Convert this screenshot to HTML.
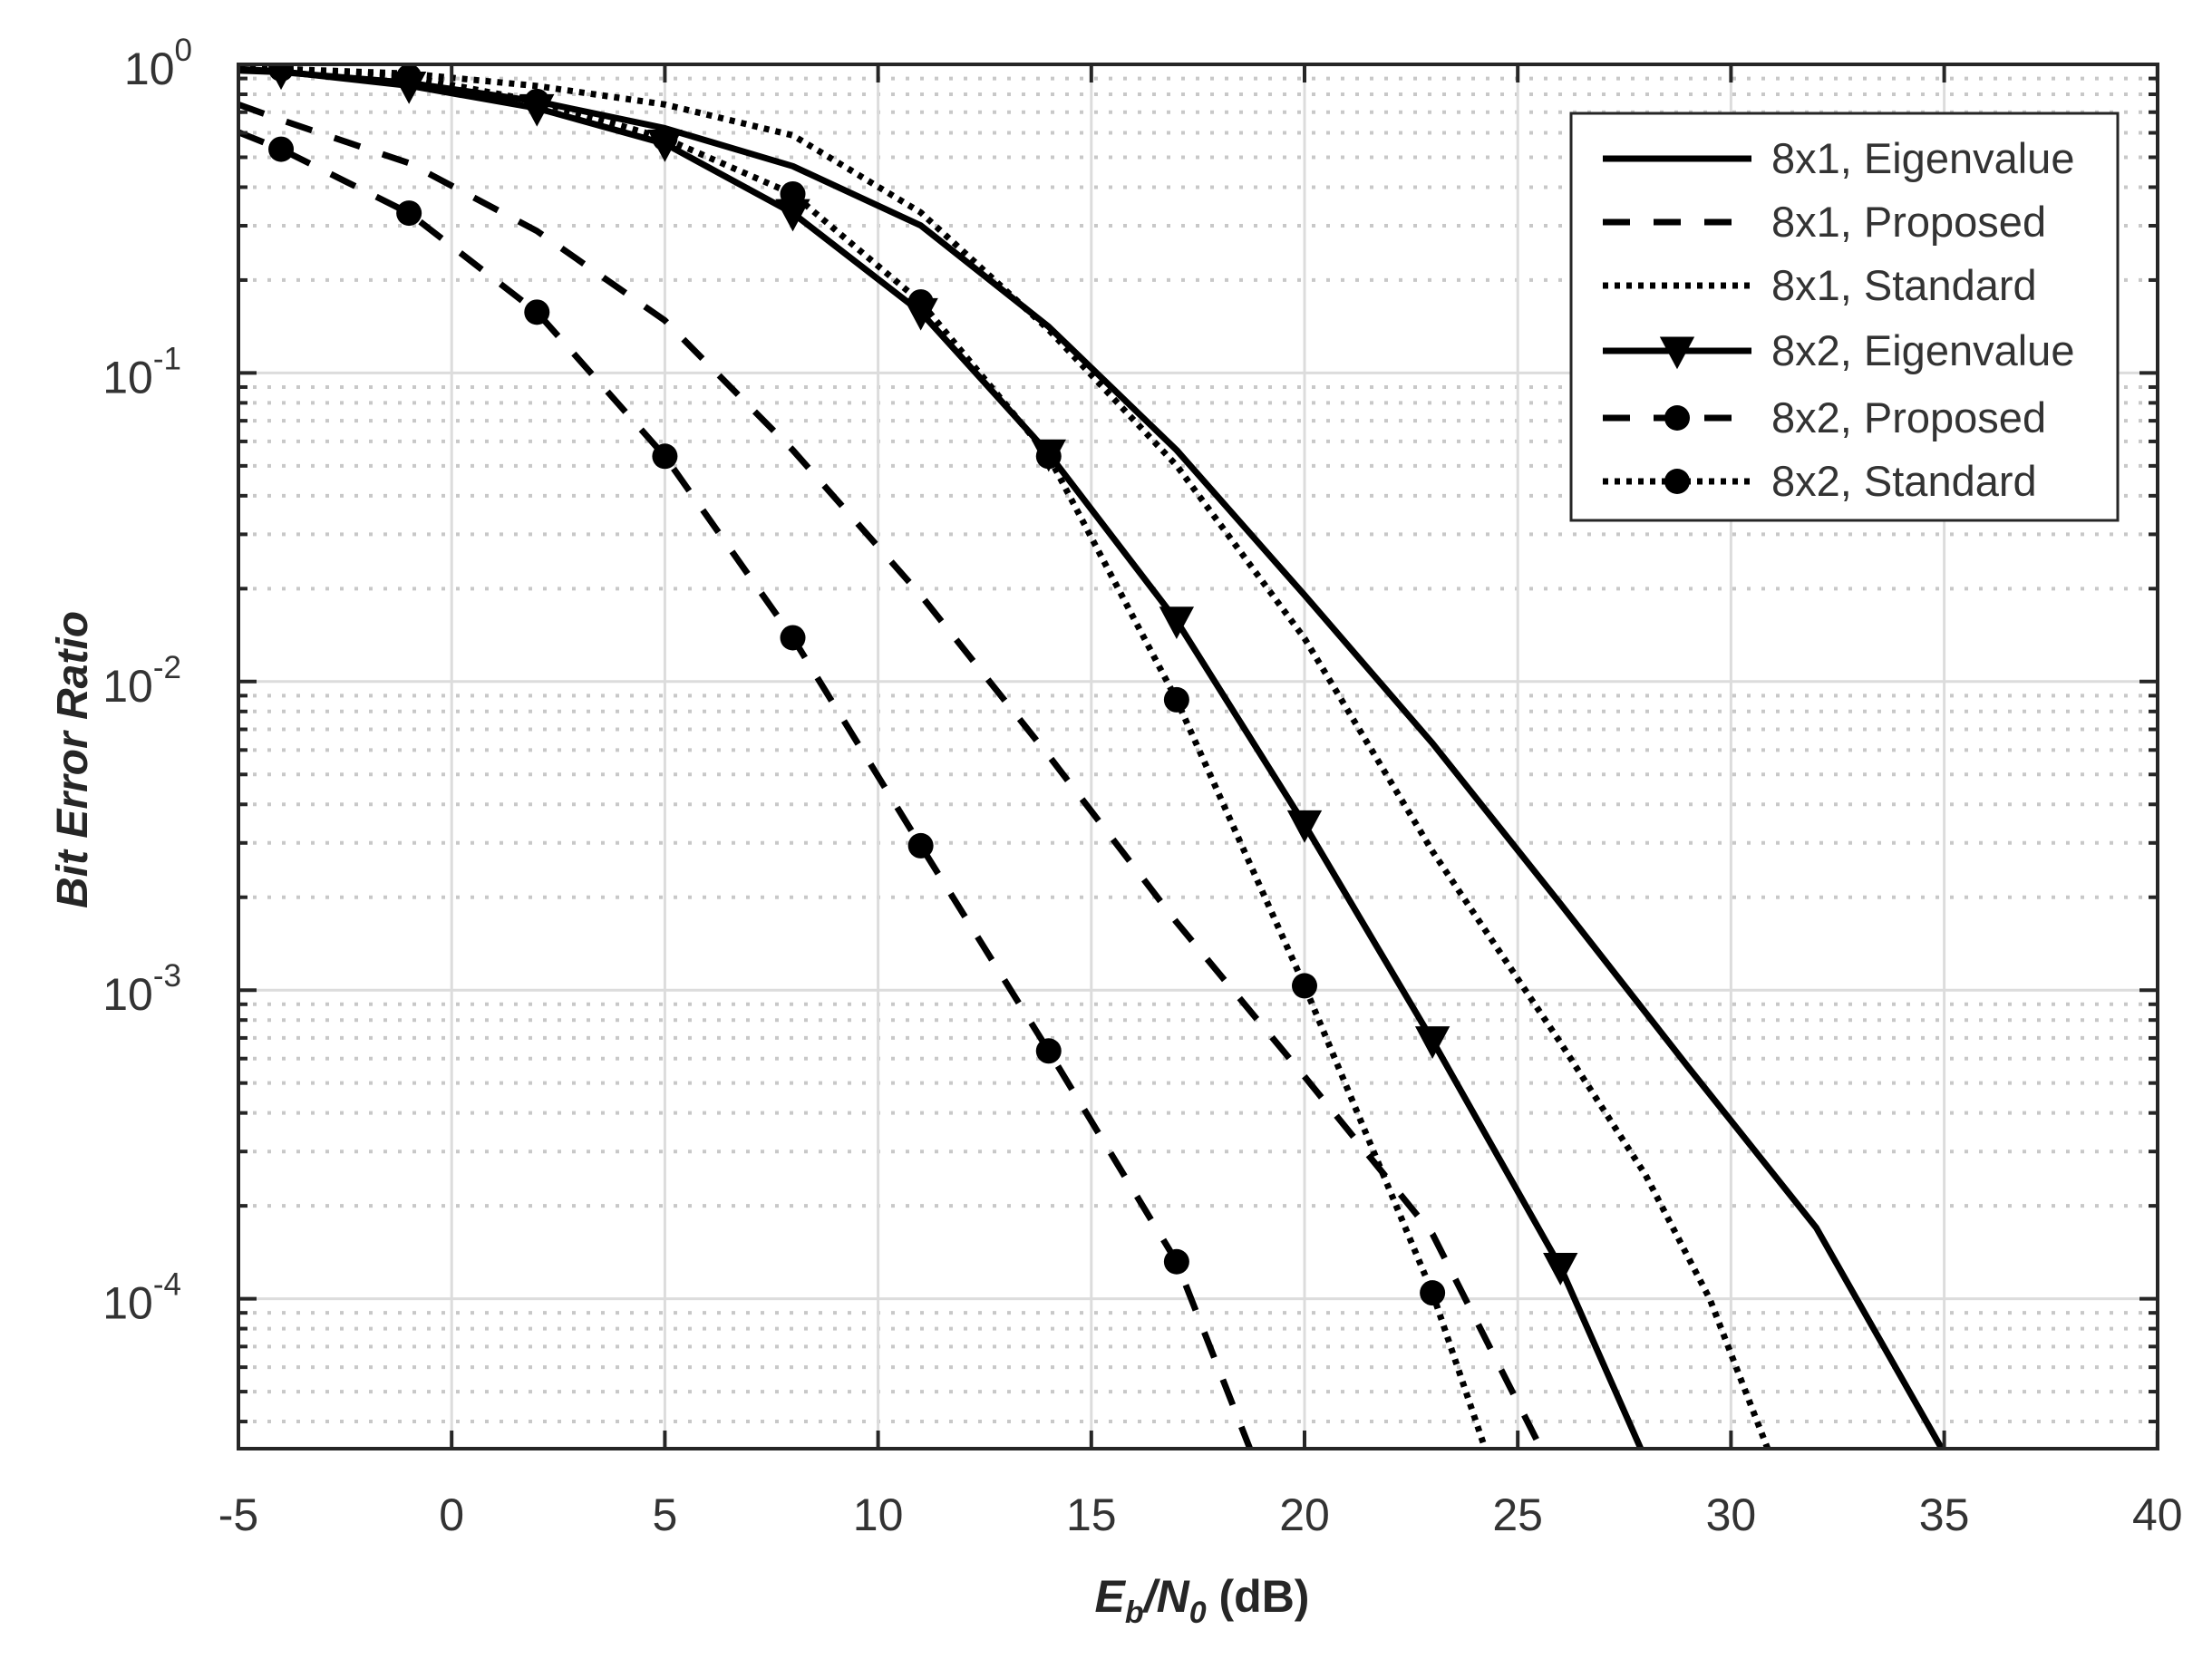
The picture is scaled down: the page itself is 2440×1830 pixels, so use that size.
<!DOCTYPE html>
<html><head><meta charset="utf-8"><style>
html,body{margin:0;padding:0;background:#fff;}
svg{display:block;}
text{font-family:"Liberation Sans",Arial,sans-serif;}
</style></head><body>
<svg id="s" width="2440" height="1830" viewBox="0 0 2440 1830" xmlns="http://www.w3.org/2000/svg">
<defs><clipPath id="c"><rect x="263" y="71" width="2117" height="1527"/></clipPath></defs>
<g id="grid"></g>
<g id="series" clip-path="url(#c)"></g>
<rect x="263" y="71" width="2117" height="1527" fill="none" stroke="#262626" stroke-width="4"/>
<g id="ticks"></g>
<g id="legend"></g>
<text x="1326" y="1778" font-size="50" font-weight="bold" font-style="italic" text-anchor="middle" fill="#262626">E<tspan font-size="34" dy="12">b</tspan><tspan dy="-12">/N</tspan><tspan font-size="34" dy="12">0</tspan><tspan dy="-12" font-style="normal"> (dB)</tspan></text>
<text transform="translate(96,838) rotate(-90)" font-size="48" font-weight="bold" font-style="italic" text-anchor="middle" fill="#262626">Bit Error Ratio</text>
</svg>
<script>
const NS="http://www.w3.org/2000/svg";
const X=x=>263+(x+5)*47.04, Y=d=>71+d*340.4;
function el(p,t,a,txt){const e=document.createElementNS(NS,t);for(const k in a)e.setAttribute(k,a[k]);if(txt!==undefined)e.textContent=txt;p.appendChild(e);return e;}
const G=document.getElementById('grid'),T=document.getElementById('ticks'),S=document.getElementById('series'),L=document.getElementById('legend');
for(let k=-5;k<=0;k++)for(let m=2;m<=9;m++){const lv=k+Math.log10(m);const d=-lv;if(d<0||d>4.486)continue;const y=Y(d);
 el(G,'line',{x1:263,x2:2380,y1:y,y2:y,stroke:'#c8c8c8','stroke-width':4,'stroke-dasharray':'4 12'});
 el(T,'line',{x1:263,x2:273,y1:y,y2:y,stroke:'#262626','stroke-width':4});
 el(T,'line',{x1:2370,x2:2380,y1:y,y2:y,stroke:'#262626','stroke-width':4});}
for(let d=0;d<=4;d++){const y=Y(d);el(G,'line',{x1:263,x2:2380,y1:y,y2:y,stroke:'#dcdcdc','stroke-width':3});
 el(T,'line',{x1:263,x2:283,y1:y,y2:y,stroke:'#262626','stroke-width':4});
 el(T,'line',{x1:2360,x2:2380,y1:y,y2:y,stroke:'#262626','stroke-width':4});
 const t=el(T,'text',{x:d==0?'212':'200',y:y+22,'font-size':50,'text-anchor':'end',fill:'#333'},'10');
 el(t,'tspan',{dy:-26,'font-size':35},d==0?'0':'-'+d);}
for(let x=-5;x<=40;x+=5){const px=X(x);el(G,'line',{x1:px,x2:px,y1:71,y2:1598,stroke:'#dcdcdc','stroke-width':3});
 el(T,'line',{x1:px,x2:px,y1:1598,y2:1578,stroke:'#262626','stroke-width':4});
 el(T,'line',{x1:px,x2:px,y1:71,y2:91,stroke:'#262626','stroke-width':4});
 el(T,'text',{x:px,y:1688,'font-size':50,'text-anchor':'middle',fill:'#333'},String(x));}
const data={
E1:[[-5,0.02],[-4,0.025],[-1,0.06],[2,0.12],[5,0.207],[8,0.33],[11,0.522],[14,0.85],[17,1.25],[20,1.72],[23,2.2],[26,2.72],[29,3.25],[32,3.77],[35,4.5]],
P1:[[-5,0.13],[-4,0.18],[-1,0.32],[2,0.54],[5,0.83],[8,1.25],[11,1.72],[14,2.24],[17,2.78],[20,3.28],[23,3.79],[25.6,4.5]],
S1:[[-5,0.01],[-1,0.03],[2,0.07],[5,0.13],[8,0.23],[11,0.48],[14,0.86],[17,1.3],[20,1.86],[23,2.55],[26,3.17],[28,3.6],[29.5,4.0],[30.9,4.5]],
E2:[[-5,0.015],[-4,0.023],[-1,0.069],[2,0.142],[5,0.257],[8,0.482],[11,0.803],[14,1.261],[17,1.803],[20,2.463],[23,3.163],[26,3.897],[27.93,4.5]],
P2:[[-5,0.22],[-4,0.275],[-1,0.482],[2,0.803],[5,1.27],[8,1.858],[11,2.532],[14,3.197],[17,3.88],[18.76,4.5]],
S2:[[-5,0.01],[-4,0.015],[-1,0.04],[2,0.12],[5,0.24],[8,0.42],[11,0.77],[14,1.27],[17,2.059],[20,2.986],[23,3.981],[24.27,4.5]]};
const sty={E1:'',P1:'30 26',S1:'6 7',E2:'',P2:'30 26',S2:'6 7'};
const mk={E2:'tri',P2:'cir',S2:'cir'};
function marker(p,x,y,t){if(t=='tri')el(p,'path',{d:`M${x-15},${y-13}L${x+15},${y-13}L${x},${y+15}Z`,fill:'#000',stroke:'#000','stroke-width':5});
 else el(p,'circle',{cx:x,cy:y,r:14,fill:'#000'});}
for(const k in data){const pts=data[k].map(([x,d])=>X(x)+','+Y(d)).join(' ');
 const a={points:pts,fill:'none',stroke:'#000','stroke-width':7,'stroke-linejoin':'round'};if(sty[k])a['stroke-dasharray']=sty[k];el(S,'polyline',a);
 if(mk[k])data[k].forEach(([x,d])=>{if(x>=-4&&Number.isInteger(x)&&(x+4)%3==0)marker(S,X(x),Y(d),mk[k]);});}
el(L,'rect',{x:1733,y:125,width:603,height:449,fill:'#fff',stroke:'#262626','stroke-width':3});
const names=[['E1','8x1, Eigenvalue'],['P1','8x1, Proposed'],['S1','8x1, Standard'],['E2','8x2, Eigenvalue'],['P2','8x2, Proposed'],['S2','8x2, Standard']];
const ys=[175,245,315,387,461,531];
names.forEach(([k,n],i)=>{const y=ys[i];const a={x1:1768,x2:1932,y1:y,y2:y,stroke:'#000','stroke-width':7};if(sty[k])a['stroke-dasharray']=sty[k];el(L,'line',a);
 if(mk[k])marker(L,1850,y,mk[k]);
 el(L,'text',{x:1954,y:y+16,'font-size':47,fill:'#333'},n);});
</script>
</body></html>
